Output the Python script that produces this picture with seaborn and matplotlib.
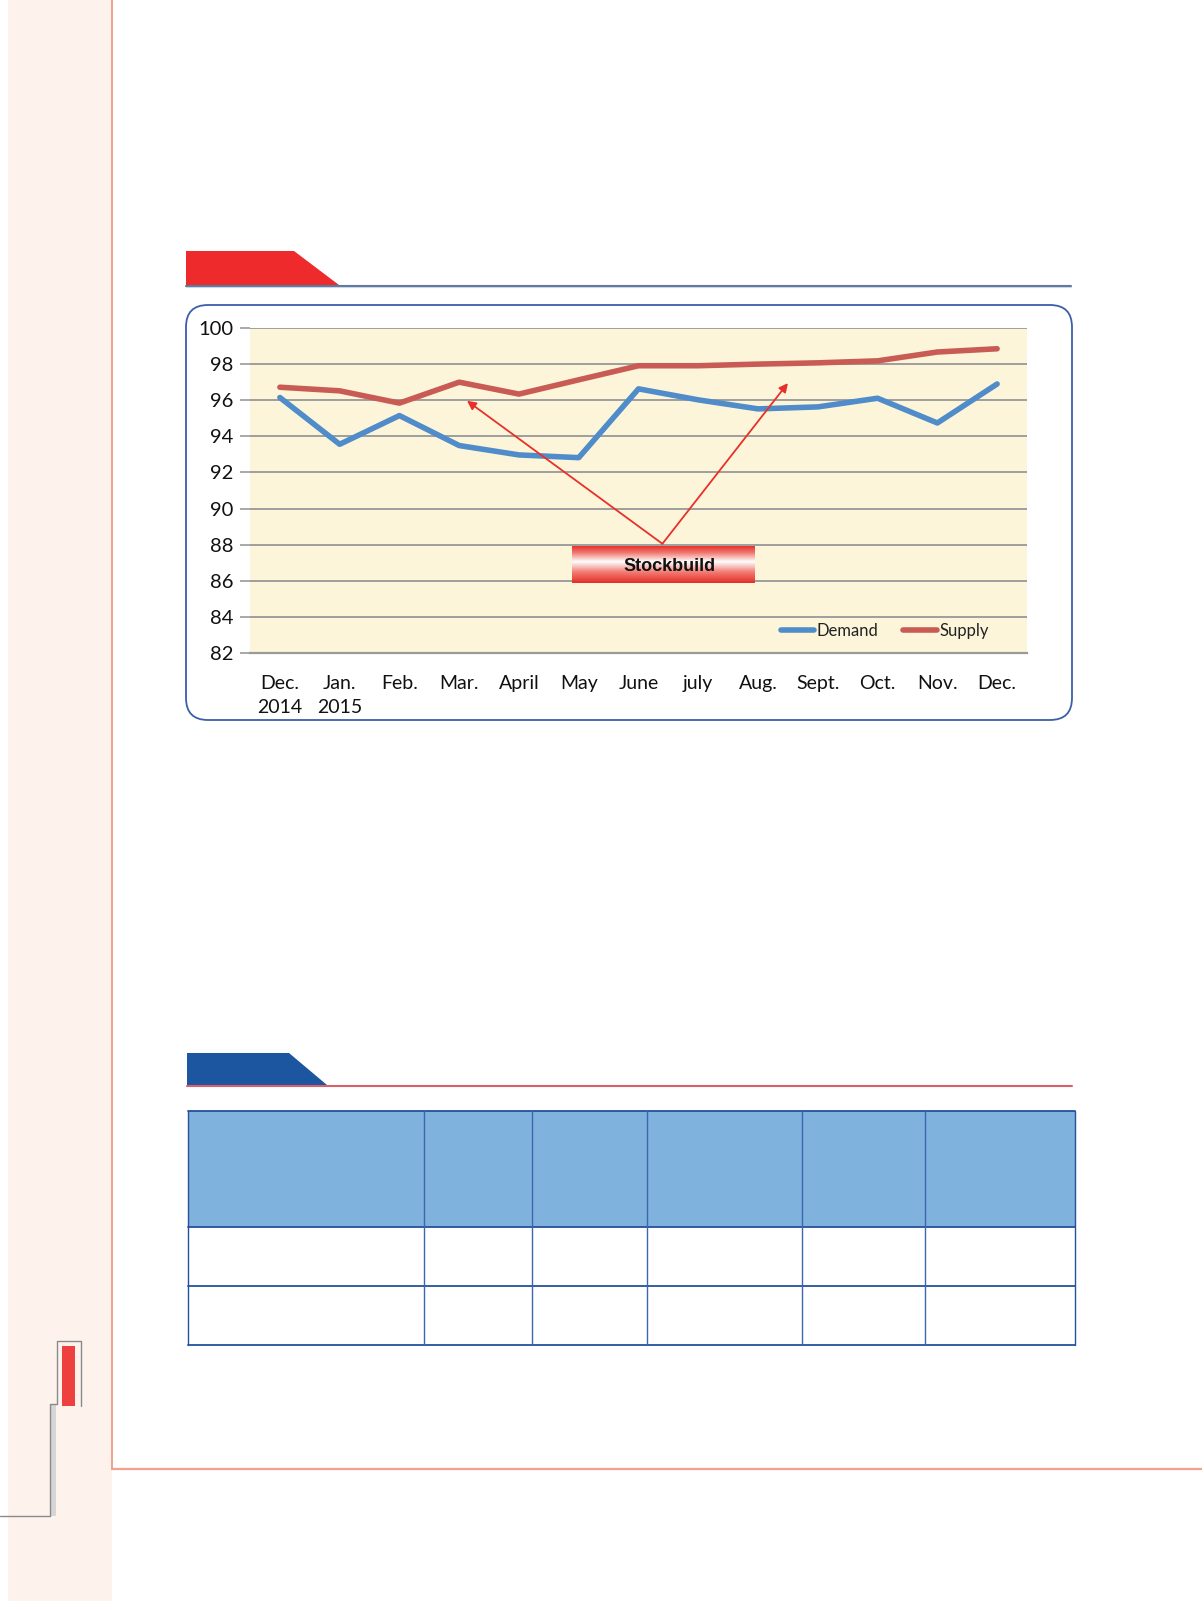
import numpy as np
import pandas as pd
import matplotlib
matplotlib.use("Agg")
import matplotlib.pyplot as plt
import seaborn as sns
from matplotlib.patches import Polygon, Rectangle, FancyBboxPatch
from matplotlib.colors import LinearSegmentedColormap

# chart data
months = ["Dec.\n2014", "Jan.\n2015", "Feb.", "Mar.", "April", "May", "June",
          "july", "Aug.", "Sept.", "Oct.", "Nov.", "Dec."]
demand = [96.15, 93.56, 95.15, 93.49, 92.97, 92.82, 96.63,
          96.02, 95.52, 95.63, 96.11, 94.74, 96.90]
supply = [96.72, 96.52, 95.84, 97.00, 96.34, 97.13, 97.91,
          97.91, 98.00, 98.07, 98.18, 98.67, 98.85]
series_names = ["Demand", "Supply"]
y_ticks = [82, 84, 86, 88, 90, 92, 94, 96, 98, 100]

W, H = 1202, 1601

sns.set_style("white")
plt.rcParams["font.family"] = ["Lato", "DejaVu Sans"]

fig = plt.figure(figsize=(W / 100, H / 100), dpi=100)
fig.patch.set_facecolor("white")

# page decoration layer, in pixel coordinates
bg = fig.add_axes([0, 0, 1, 1])
bg.set_xlim(0, W)
bg.set_ylim(H, 0)
bg.axis("off")

bg.add_patch(Rectangle((8, 0), 104, H, facecolor="#fdf3ec", edgecolor="none"))
bg.plot([112, 112], [0, 1469], color="#f2a08f", lw=1.4)
bg.plot([112, W], [1469, 1469], color="#f2a08f", lw=1.6)

# small ornament bottom-left
bg.add_patch(Rectangle((50, 1404), 6, 112, facecolor="#d6d6d6", edgecolor="none"))
bg.plot([0, 50], [1516, 1516], color="#8a8a8a", lw=1)
bg.plot([50, 50, 57, 57, 81, 81], [1516, 1404, 1404, 1341, 1341, 1406],
        color="#8a8a8a", lw=1)
bg.add_patch(Rectangle((62, 1346), 13, 60, facecolor="#ef4040", edgecolor="none"))

# section header: red tab + rule
bg.add_patch(Polygon([(186, 251), (294, 251), (339, 285), (186, 285)],
                     closed=True, facecolor="#ee2a2c", edgecolor="none"))
bg.plot([186, 1071], [285.5, 285.5], color="#5f7898", lw=1.5)
bg.plot([186, 1071], [287, 287], color="#c6d6ee", lw=0.8)

# second header: blue tab + red rule
bg.add_patch(Polygon([(187, 1053), (289, 1053), (327, 1085), (187, 1085)],
                     closed=True, facecolor="#1c55a0", edgecolor="none"))
bg.plot([187, 1072], [1085.5, 1085.5], color="#d9606a", lw=1.5)

# empty table
col_x = [188, 424, 532, 647, 802, 925, 1075]
row_y = [1111, 1227, 1286, 1345]
bg.add_patch(Rectangle((188, 1111), 1075 - 188, 1227 - 1111,
                       facecolor="#7fb2dc", edgecolor="none"))
for y in row_y:
    bg.plot([188, 1075], [y, y], color="#24509c", lw=1.3)
for i, x in enumerate(col_x):
    c = "#24509c" if i in (0, len(col_x) - 1) else "#3d66b0"
    bg.plot([x, x], [1111, 1345], color=c, lw=1.0)

# rounded chart frame
bg.add_patch(FancyBboxPatch((186, 305), 1072 - 186, 720 - 305,
                            boxstyle="round,pad=0,rounding_size=22",
                            facecolor="white", edgecolor="#3d5ea8", lw=1.3))

# the chart itself
px_l, px_r, px_t, px_b = 250, 1027, 328, 653
ax = fig.add_axes([px_l / W, 1 - px_b / H, (px_r - px_l) / W, (px_b - px_t) / H])
ax.set_facecolor("#fdf5da")

df = pd.DataFrame({
    "idx": list(range(len(months))) * 2,
    "value": demand + supply,
    "series": [series_names[0]] * len(months) + [series_names[1]] * len(months),
})
palette = {"Demand": "#4f8cc9", "Supply": "#c95b55"}
sns.lineplot(data=df, x="idx", y="value", hue="series", palette=palette,
             lw=4, ax=ax, zorder=4, solid_joinstyle="round", solid_capstyle="round")

for y in y_ticks[1:]:
    ax.axhline(y, color="#9e9e9e", lw=1.4, zorder=1)

# Stockbuild label with vertical red-white-red gradient
grad_cmap = LinearSegmentedColormap.from_list(
    "sb", [(0, "#e8342c"), (0.18, "#f07a72"), (0.42, "#ffffff"),
           (0.7, "#f37d74"), (1, "#e2302a")])
grad = np.linspace(0, 1, 100).reshape(-1, 1)
ax.imshow(grad, cmap=grad_cmap, aspect="auto", origin="upper",
          extent=(4.886, 7.94, 85.86, 87.89), zorder=3)
ax.text(6.52, 86.78, "Stockbuild", ha="center", va="center", fontsize=13,
        fontweight="bold", family=["Liberation Sans", "DejaVu Sans"],
        color="#111111", zorder=6)

tail = (6.40, 88.05)
for head in [(3.13, 95.97), (8.50, 96.95)]:
    ax.annotate("", xy=head, xytext=tail, zorder=5,
                arrowprops=dict(arrowstyle="-|>", color="#e8302a", lw=1.3,
                                mutation_scale=13, shrinkA=0, shrinkB=0))

ax.set_xlim(-0.5, len(months) - 0.5)
ax.set_ylim(82, 100)
ax.set_yticks(y_ticks)
ax.set_xticks(range(len(months)))
ax.set_xticklabels(months, fontsize=14, color="#111111", linespacing=1.45)
ax.set_xticks(np.arange(-0.5, len(months)), minor=True)
ax.tick_params(axis="x", which="major", length=0, pad=16)
ax.tick_params(axis="x", which="minor", length=7, width=1.2, color="#9a9a9a",
               direction="out")
ax.tick_params(axis="y", length=7, width=1.2, color="#9a9a9a", labelsize=14.5,
               labelcolor="#111111", pad=5, left=True)
ax.set_xlabel("")
ax.set_ylabel("")
for s in ["top", "right", "left"]:
    ax.spines[s].set_visible(False)
ax.spines["bottom"].set_color("#9a9a9a")
ax.spines["bottom"].set_linewidth(1.6)
ax.spines["bottom"].set_zorder(2)

handles, labels = ax.get_legend_handles_labels()
ax.legend(handles, labels, loc="center left", bbox_to_anchor=(0.683, 0.068),
          ncol=2, frameon=False, fontsize=12, handlelength=2.0,
          handletextpad=0.15, columnspacing=1.5, borderpad=0, borderaxespad=0,
          labelcolor="#222222")

fig.savefig("out.png", dpi=100)
